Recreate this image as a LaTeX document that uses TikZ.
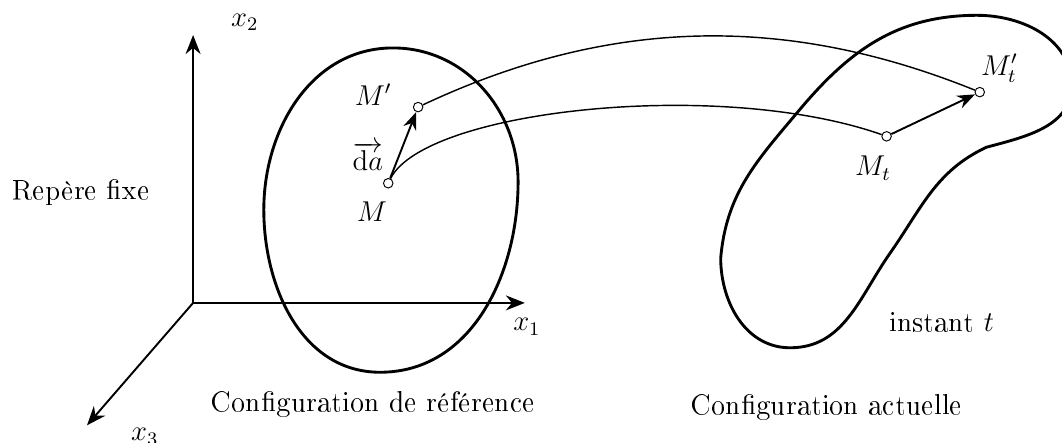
\documentclass[tikz,border=0pt]{standalone}
\usepackage[T1]{fontenc}
\usetikzlibrary{arrows.meta}

\begin{document}
\begin{tikzpicture}[
    font=\large,
    axis/.style={-{Stealth[length=2.8mm,width=2.2mm]}, thick},
    body/.style={very thick, line join=round},
    traj/.style={line width=0.6pt},
    vec/.style={-{Stealth[length=2.6mm,width=2mm]}, thick},
    pt/.style={circle, draw, fill=white, inner sep=0pt, minimum size=1.4mm, line width=0.4pt}
]
\useasboundingbox (0,0) rectangle (15.62,6.515);

% repere fixe
\coordinate (O) at (2.84,2.06);
\coordinate (e1) at (7.72,2.06);
\coordinate (e2) at (2.84,6.0);
\coordinate (e3) at (1.28,0.26);
\draw[axis] (O) -- (e1);
\draw[axis] (O) -- (e2);
\draw[axis] (O) -- (e3);
\node at (7.75,1.71) (lx1) {$x_1$};
\node at (3.60,6.19) (lx2) {$x_2$};
\node at (2.13,0.09) (lx3) {$x_3$};
\node at (1.19,3.69) (fixe) {Rep\`ere fixe};

% configuration de reference
\draw[body] (5.78,5.81) to[out=180, in=90] (3.88,3.43)
    to[out=270, in=180] (5.59,1.04)
    to[out=0, in=270] (7.62,3.84)
    to[out=90, in=0] cycle;
\node at (5.49,0.56) (ref) {Configuration de r\'ef\'erence};

% configuration actuelle
\draw[body] (14.37,6.29) to[out=0, in=90] (15.76,5.26)
    to[out=270, in=15] (14.51,4.35)
    to[out=205, in=55] (13.09,2.79)
    to[out=235, in=0] (11.62,1.40)
    to[out=180, in=270] (10.60,2.72)
    to[out=85, in=230] (11.76,4.90)
    to[out=50, in=180] cycle;
\node at (12.16,0.53) (act) {Configuration actuelle};
\node at (13.85,1.78) (inst) {instant $t$};

% points
\node[pt] at (5.71,3.82) (M) {};
\node[pt] at (6.15,4.94) (Mp) {};
\node[pt] at (13.04,4.51) (Mt) {};
\node[pt] at (14.41,5.16) (Mtp) {};
\node at (5.47,3.40) (lM) {$M$};
\node at (5.49,5.12) (lMp) {$M'$};
\node at (5.41,4.22) (lda) {$\overrightarrow{\mathrm{d}a}$};
\node at (12.84,4.04) (lMt) {$M_t$};
\node at (14.70,5.51) (lMtp) {$M'_t$};

\draw[vec] (M) -- (Mp);
\draw[vec] (Mt) -- (Mtp);
\draw[traj] (Mp) .. controls (8.94,6.25) and (11.54,6.32) .. (Mtp);
\draw[traj] (M) .. controls (6.25,4.90) and (10.59,5.37) .. (Mt);
\end{tikzpicture}
\end{document}
